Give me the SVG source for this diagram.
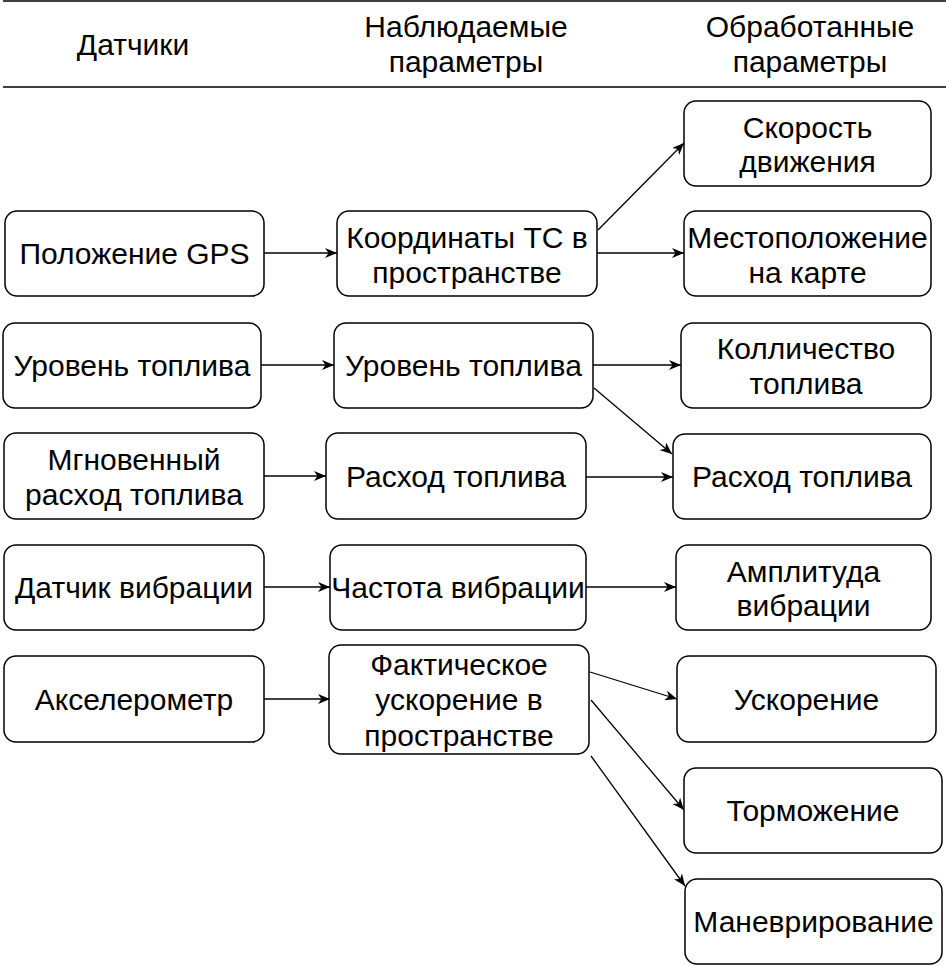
<svg xmlns="http://www.w3.org/2000/svg" width="946" height="966" viewBox="0 0 946 966">
<style>
.box{fill:#fff;stroke:#000;stroke-width:1.5}
.t{font-family:"Liberation Sans",Arial,sans-serif;font-size:30px;fill:#000;text-anchor:middle}
.c{stroke:#000;stroke-width:1.3;fill:none;marker-end:url(#ah)}
.hl{stroke:#000;stroke-width:1.5}
</style>
<defs>
<marker id="ah" markerUnits="userSpaceOnUse" markerWidth="13" markerHeight="10" refX="12" refY="5" orient="auto" viewBox="0 0 13 10">
<path d="M0,0 L12,5 L0,10 L3.5,5 z" fill="#000"/>
</marker>
</defs>
<rect width="946" height="966" fill="#fff"/>
<g id="header">
<line class="hl" x1="3" y1="1" x2="946" y2="1"/>
<line class="hl" x1="3" y1="87" x2="946" y2="87"/>
<text class="t" x="133" y="55">Датчики</text>
<text class="t" x="466" y="37">Наблюдаемые</text>
<text class="t" x="466" y="72">параметры</text>
<text class="t" x="810" y="37">Обработанные</text>
<text class="t" x="810" y="72">параметры</text>
</g>
<g id="connectors">
<line class="c" x1="264" y1="253" x2="337" y2="253"/>
<line class="c" x1="598" y1="230" x2="684" y2="143"/>
<line class="c" x1="597" y1="253" x2="684" y2="253"/>
<line class="c" x1="261" y1="365" x2="334" y2="365"/>
<line class="c" x1="593" y1="365" x2="681" y2="365"/>
<line class="c" x1="594" y1="388" x2="672" y2="454"/>
<line class="c" x1="264" y1="476" x2="326" y2="476"/>
<line class="c" x1="586" y1="477" x2="673" y2="477"/>
<line class="c" x1="264" y1="587" x2="330" y2="587"/>
<line class="c" x1="586" y1="587" x2="676" y2="587"/>
<line class="c" x1="264" y1="699" x2="330" y2="699"/>
<line class="c" x1="590" y1="672" x2="677" y2="699"/>
<line class="c" x1="591" y1="700" x2="684" y2="810"/>
<line class="c" x1="591" y1="756" x2="685" y2="886"/>
</g>
<g id="n1"><rect class="box" x="5" y="211" width="259" height="85" rx="12"/><text class="t" x="134.5" y="264">Положение GPS</text></g>
<g id="n2"><rect class="box" x="3" y="323" width="258" height="85" rx="12"/><text class="t" x="132" y="376">Уровень топлива</text></g>
<g id="n3"><rect class="box" x="4" y="433" width="260" height="86" rx="12"/><text class="t" x="134" y="470">Мгновенный</text><text class="t" x="134" y="505">расход топлива</text></g>
<g id="n4"><rect class="box" x="4" y="545" width="260" height="85" rx="12"/><text class="t" x="134" y="598">Датчик вибрации</text></g>
<g id="n5"><rect class="box" x="4" y="656" width="260" height="86" rx="12"/><text class="t" x="134" y="710">Акселерометр</text></g>
<g id="m1"><rect class="box" x="337" y="211" width="260" height="85" rx="12"/><text class="t" x="467" y="248">Координаты ТС в</text><text class="t" x="467" y="283">пространстве</text></g>
<g id="m2"><rect class="box" x="334" y="323" width="259" height="85" rx="12"/><text class="t" x="463.5" y="376">Уровень топлива</text></g>
<g id="m3"><rect class="box" x="326" y="433" width="260" height="86" rx="12"/><text class="t" x="456" y="487">Расход топлива</text></g>
<g id="m4"><rect class="box" x="330" y="545" width="256" height="85" rx="12"/><text class="t" x="458" y="598">Частота вибрации</text></g>
<g id="m5"><rect class="box" x="329" y="645" width="260" height="109" rx="12"/><text class="t" x="459" y="675">Фактическое</text><text class="t" x="459" y="710">ускорение в</text><text class="t" x="459" y="746">пространстве</text></g>
<g id="o1"><rect class="box" x="684" y="101" width="247" height="85" rx="12"/><text class="t" x="807.5" y="138">Скорость</text><text class="t" x="807.5" y="172">движения</text></g>
<g id="o2"><rect class="box" x="684" y="211" width="247" height="85" rx="12"/><text class="t" x="807.5" y="248">Местоположение</text><text class="t" x="807.5" y="283">на карте</text></g>
<g id="o3"><rect class="box" x="681" y="323" width="250" height="85" rx="12"/><text class="t" x="806" y="359">Колличество</text><text class="t" x="806" y="394">топлива</text></g>
<g id="o4"><rect class="box" x="673" y="434" width="258" height="85" rx="12"/><text class="t" x="802" y="487">Расход топлива</text></g>
<g id="o5"><rect class="box" x="676" y="545" width="255" height="85" rx="12"/><text class="t" x="803.5" y="582">Амплитуда</text><text class="t" x="803.5" y="616">вибрации</text></g>
<g id="o6"><rect class="box" x="677" y="656" width="259" height="86" rx="12"/><text class="t" x="806.5" y="710">Ускорение</text></g>
<g id="o7"><rect class="box" x="684" y="768" width="258" height="85" rx="12"/><text class="t" x="813" y="821">Торможение</text></g>
<g id="o8"><rect class="box" x="685" y="879" width="257" height="85" rx="12"/><text class="t" x="813.5" y="932">Маневрирование</text></g>
</svg>
